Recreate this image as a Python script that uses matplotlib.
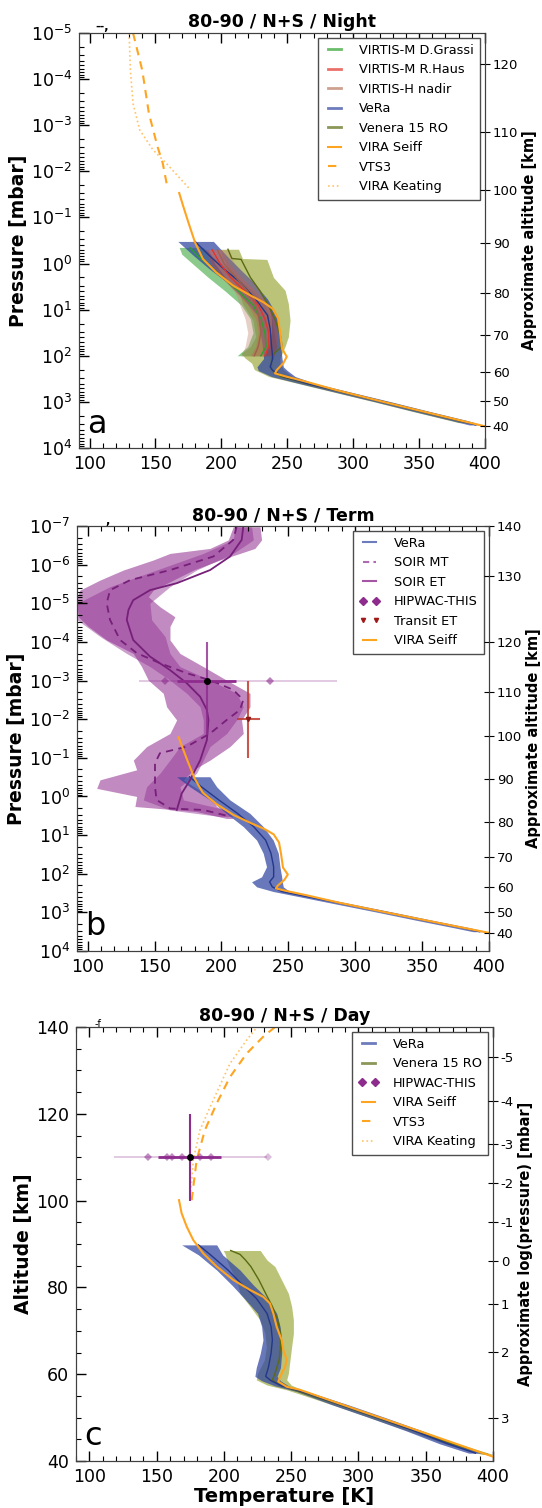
import numpy as np
import matplotlib
matplotlib.use("Agg")
import matplotlib.pyplot as plt
from matplotlib.lines import Line2D
from matplotlib.ticker import MultipleLocator, NullLocator, LogLocator, NullFormatter, LogFormatterSciNotation

# ---------------------------------------------------------------- data
# pressures are stored as log10(p / mbar)

# VIRA Seiff (same profile in panels a and b)
vira_logp = [-1.53, -1.25, -0.89, -0.46, -0.10, 0.19, 0.48, 0.69, 0.84, 0.98, 1.19,
             1.48, 1.84, 2.02, 2.16, 2.31, 2.38, 2.45, 2.56, 2.75, 3.00, 3.27, 3.53]
vira_T = [168, 171, 175, 180, 186, 196, 209, 222, 232, 239, 243,
          244.5, 246, 249.6, 247, 242, 240.7, 249, 264, 288, 323, 362, 400]

# panel a: night
decades_a = [-5, -4, -3, -2, -1, 0, 1, 2, 3, 4]
vts3_a_logp = [-5.0, -4.19, -3.26, -2.54, -2.18, -1.66]
vts3_a_T = [133, 140, 145, 151.5, 155.5, 159]
keat_a_logp = [-5.0, -4.19, -3.47, -2.90, -2.47, -2.18, -1.60]
keat_a_T = [130, 131, 133, 138, 148, 158, 176.5]

vera_a_logp = [-0.48, -0.17, 0.12, 0.40, 0.77, 1.12, 1.41, 1.77, 2.06, 2.24, 2.32,
               2.45, 2.60, 2.80, 3.00, 3.20, 3.40, 3.50]
vera_a_lo = [167, 179, 191, 204, 217, 227, 229, 231, 232, 227, 228, 238, 259, 288, 317, 345, 374, 388]
vera_a_hi = [194, 204, 214, 224, 235, 242, 244, 245, 246, 247, 250, 256, 271, 300, 329, 357, 386, 398]
vera_a_mid = [180, 191, 202, 214, 226, 235, 237, 238, 239, 237, 239, 247, 265, 294, 323, 351, 380, 393]

ven_a_logp = [-0.31, -0.11, -0.09, 0.30, 0.58, 0.87, 1.23, 1.59, 1.80, 1.95, 2.05,
              2.16, 2.30, 2.45, 2.60, 2.80, 3.00, 3.20, 3.45]
ven_a_lo = [199, 201, 202, 208, 213, 216, 224, 226, 222, 215, 218, 223, 225, 236, 258, 287, 316, 344, 380]
ven_a_hi = [213, 216, 234.5, 239.5, 248.3, 250.8, 252.1, 250.8, 248.3, 246, 244.5, 244.5, 247, 254, 270, 299, 328, 356, 392]
ven_a_mid = [205, 208, 215, 222, 229, 235, 241, 245, 246, 240, 238, 238, 238, 245, 264, 293, 322, 350, 386]

grassi_logp = [-0.35, -0.20, 0.00, 0.30, 0.60, 0.90, 1.20, 1.50, 1.80, 2.00]
grassi_lo = [168, 170, 178, 190, 203, 215, 222, 224, 220, 212]
grassi_hi = [186, 192, 200, 212, 224, 233, 238, 240, 242, 240]
grassi_mid = [176, 181, 189, 201, 213, 224, 230, 233, 234, 230]

haus_logp = [-0.30, 0.00, 0.30, 0.60, 0.90, 1.20, 1.50, 1.80, 2.00]
haus_lo = [188, 192, 200, 210, 220, 226, 228, 226, 222]
haus_hi = [200, 206, 215, 226, 236, 240, 242, 242, 240]
haus_mid = [193, 199, 207, 218, 228, 233, 236, 236, 233]

vh_logp = [-0.30, 0.00, 0.30, 0.60, 0.90, 1.20, 1.50, 1.80, 2.00]
vh_lo = [190, 195, 203, 210, 214, 218, 220, 218, 215]
vh_hi = [205, 210, 220, 230, 236, 238, 238, 236, 232]
vh_mid = [197, 202, 211, 220, 226, 229, 230, 228, 225]

alt_a_ticks = [40, 50, 60, 70, 80, 90, 100, 110, 120]
alt_a_logp = [3.53, 2.99, 2.36, 1.55, 0.64, -0.45, -1.60, -2.86, -4.32]

# panel b: terminator
decades_b = [-7, -6, -5, -4, -3, -2, -1, 0, 1, 2, 3, 4]
vera_b_logp = [-0.51, -0.25, 0.09, 0.44, 0.78, 1.13, 1.47, 1.82, 2.08, 2.21, 2.34,
               2.46, 2.60, 2.80, 3.00, 3.20, 3.40, 3.50]
vera_b_lo = [166.5, 176.4, 191.4, 203.8, 216.3, 226.3, 231.2, 233.7, 230, 222.5, 226.3,
             238.7, 259, 288, 317, 345, 374, 388]
vera_b_hi = [191.4, 196.4, 206.3, 221.3, 231.2, 238.7, 242.5, 243.7, 245, 245.5, 246.2,
             251, 271, 300, 329, 357, 386, 398]
vera_b_mid = [176, 185, 198, 212, 224, 233, 237, 239, 239, 236, 238, 245, 265, 294, 323, 351, 380, 393]

soir_et_logp = [-6.98, -6.64, -6.21, -5.86, -5.52, -5.34, -5.08, -4.83, -4.57, -4.05, -3.62,
                -3.27, -2.93, -2.58, -2.24, -1.98, -1.46, -0.94, -0.43, -0.08, 0.35]
soir_et_T = [216.3, 215.1, 206.4, 191.5, 166.6, 146.6, 134, 130.5, 129.2, 134, 146.6,
             161.6, 174.1, 184.1, 189.1, 190.3, 189.1, 184.1, 176.6, 170.3, 166.6]
soir_mt_logp = [-6.98, -6.64, -6.21, -5.86, -5.60, -5.34, -5.00, -4.57, -4.05, -3.71, -3.45,
                -3.19, -3.01, -2.76, -2.50, -2.24, -1.98, -1.63, -1.29, -1.12, -0.86, -0.25,
                0.09, 0.31, 0.35, 0.52]
soir_mt_T = [211.3, 208.8, 193.9, 161.6, 131.7, 116.7, 114.2, 116.7, 124.2, 136.7, 154,
             174.1, 191.5, 208.8, 216.3, 213.8, 203.9, 191.5, 174.1, 154, 150.3, 150.3,
             151.5, 161.6, 186.6, 206.5]

soir_out_logp = [-6.98, -6.64, -6.42, -6.29, -6.12, -5.86, -5.60, -5.34, -5.17, -4.91, -4.65,
                 -4.40, -4.05, -3.70, -3.36, -3.01, -2.67, -2.32, -1.98, -1.63, -1.29, -0.94,
                 -0.69, -0.43, -0.21, 0.00, 0.26, 0.39, 0.57]
soir_out_lo = [208.8, 205.1, 191.4, 161.5, 149, 126.6, 109.2, 94.2, 92.2, 92.2, 93,
               100.5, 114.2, 134.1, 140.3, 145.3, 156.5, 159, 166.5, 161.5, 144, 134.1,
               136.6, 109.2, 106.7, 136.6, 135.3, 181.4, 203.8]
soir_out_hi = [228.8, 230, 225, 213.8, 198.9, 179, 164, 149, 145.3, 154, 165.2,
               161.5, 161.5, 169, 186.4, 203.8, 221.3, 221.3, 215, 216.3, 206.3, 191.4,
               179, 171.5, 181.4, 191.4, 196.4, 203.8, 208.8]

soir_in_logp = [-6.98, -6.64, -6.29, -5.86, -5.43, -5.00, -4.57, -4.14, -3.70, -3.36, -3.01,
                -2.67, -2.32, -1.98, -1.63, -1.29, -0.94, -0.60, -0.25, 0.09, 0.35, 0.52]
soir_in_lo = [210.1, 208.8, 186.4, 151.5, 116.7, 92.2, 92.2, 109.2, 129.1, 146.6, 161.5,
              174, 184, 186.4, 186.4, 169, 161.5, 154, 144, 141.6, 161.5, 198.9]
soir_in_hi = [222.5, 223.8, 208.8, 181.4, 161.5, 146.5, 147.8, 157.8, 161.5, 169, 191.4,
              211.3, 216.3, 211.3, 203.9, 191.4, 186.4, 181.4, 169, 171.5, 203.9, 208.8]

hip_b_T = [158, 236]
hip_b_err = [20, 50]
hip_b_mean_T = 189
hip_b_mean_err = 22
hip_b_logp = -3.0
hip_b_logp_range = [-4.0, -1.6]

transit_T = 220
transit_err = 8.5
transit_logp = -2.0
transit_logp_range = [-3.0, -1.0]

alt_b_ticks = [40, 50, 60, 70, 80, 90, 100, 110, 120, 130, 140]
alt_b_logp = [3.53, 2.98, 2.35, 1.56, 0.65, -0.44, -1.57, -2.70, -4.01, -5.71, -7.0]

# panel c: day, altitude in km
vira_c_alt = [100.1, 97.1, 94, 90.9, 87.8, 84.8, 81.7, 79.4, 77.8, 76.3, 74, 70.9, 67.9,
              65.6, 63.3, 61.7, 59.4, 58.3, 57.1, 56.4, 51.7, 46.4, 41]
vira_c_T = [166.6, 168.5, 172.3, 177.2, 184.7, 194.6, 207, 219.4, 229.3, 234.2, 236.7, 239.2,
            242.9, 244.1, 246.6, 245.4, 241.7, 240.4, 246.6, 256.5, 300, 350, 400]
vts3_c_alt = [100.1, 109.4, 116.3, 122.4, 128.5, 133.9, 137.8, 140.5]
vts3_c_T = [176, 179.7, 185.9, 194.6, 204.5, 216.9, 229.3, 240]
keat_c_alt = [100, 109.4, 116.3, 122.4, 131.6, 137, 140.5]
keat_c_T = [174.8, 177.2, 182.2, 190.9, 204.5, 216.9, 226]

vera_c_alt = [89.8, 87.5, 84, 80.5, 77.5, 74, 71, 67.9, 64.8, 61.5, 59.5, 58.5, 57.3, 56.0,
              53, 50, 47, 44, 41.8]
vera_c_lo = [168.6, 181, 194.6, 206, 215, 225, 228, 229, 227, 224, 223, 228, 238, 254,
             280, 308, 335, 360, 382]
vera_c_hi = [194.6, 199, 211.9, 222, 232, 239.2, 241.7, 242.9, 242.9, 242, 239.5, 242, 248, 262,
             292, 320, 347, 372, 392]
vera_c_mid = [181, 190, 203, 214, 224, 232, 235, 236, 235, 233, 231, 235, 243, 258,
              286, 314, 341, 366, 387]

ven_c_alt = [88.5, 87.6, 86.3, 84.8, 81.7, 78.6, 75.6, 72.5, 69.4, 66.3, 63.3, 60.2, 58.7, 57.5,
             56.4, 53, 50, 47, 44, 41.5]
ven_c_lo = [199.5, 201, 202, 204, 209.4, 211.9, 219.4, 226.8, 230.5, 231.5, 230, 225, 224, 232,
            246.6, 280, 308, 336, 364, 392]
ven_c_hi = [227, 229, 232, 237.9, 242.9, 247.9, 250.3, 251.6, 251.6, 250.3, 249.1, 247.9,
            246.6, 250, 258, 290, 318, 346, 374, 400]
ven_c_mid = [205, 212, 216, 220, 226, 231, 236, 240, 242, 242, 241, 238, 236, 241,
             252, 285, 313, 341, 369, 396]

hip_c_T = [143.8, 157.4, 161.2, 168.7, 182.2, 190.1]
hip_c_faint_T = [233]
hip_c_alt = 110
hip_c_span = [118, 232]
hip_c_mean_T = 174.8
hip_c_mean_span = [151, 198]
hip_c_alt_range = [100, 120]

logp_c_ticks = [-5, -4, -3, -2, -1, 0, 1, 2, 3]
logp_c_alt = [133.1, 122.9, 113.0, 104.1, 95.0, 86.0, 76.2, 65.1, 50.0]

# ---------------------------------------------------------------- style
C_VERA = "#2e44a0"
C_VERA_L = "#24378a"
C_VEN = "#8d9c1e"
C_VEN_L = "#5a6a12"
C_GRASSI = "#2ca02c"
C_HAUS = "#e3342b"
C_VH = "#c28a72"
C_VIRA = "#ffa420"
C_KEAT = "#ffc468"
C_SOIR = "#8e2c8e"
C_SOIR_L = "#76207a"
C_TRANSIT = "#c0392b"

W, H = 542, 1508
fig = plt.figure(figsize=(W / 100, H / 100), dpi=100)


def add_box(left, right, top, bottom):
    return fig.add_axes([left / W, 1 - bottom / H, (right - left) / W, (bottom - top) / H])


def P(logp):
    return np.power(10.0, np.asarray(logp, dtype=float))


def style(ax):
    ax.set_xlim(92, 400)
    ax.xaxis.set_major_locator(MultipleLocator(50))
    ax.xaxis.set_minor_locator(MultipleLocator(10))
    ax.tick_params(which="both", direction="in", top=True, right=False, labelsize=12.5, pad=5)
    ax.tick_params(which="major", length=7, width=1)
    ax.tick_params(which="minor", length=3.5, width=0.8)
    for s in ax.spines.values():
        s.set_color("0.25")


def log_pressure_axis(ax, decades):
    ax.set_yscale("log")
    ax.set_ylim(P(decades[-1]), P(decades[0]))
    ax.set_yticks(P(decades))
    ax.yaxis.set_major_formatter(LogFormatterSciNotation())
    ax.yaxis.set_minor_locator(LogLocator(base=10, subs=np.arange(2, 10), numticks=20))
    ax.yaxis.set_minor_formatter(NullFormatter())


def band(ax, y, lo, hi, color, alpha, z=1):
    ax.fill_betweenx(y, lo, hi, color=color, alpha=alpha, lw=0, zorder=z)


def twin_style(tw, label):
    tw.yaxis.set_minor_locator(NullLocator())
    tw.tick_params(axis="y", direction="inout", length=7, labelsize=9.5, pad=2)
    tw.set_ylabel(label, fontsize=10.5, fontweight="bold", labelpad=3)
    for s in tw.spines.values():
        s.set_color("0.25")


leg_kw = dict(loc="upper right", fontsize=9.3, frameon=True, fancybox=False, edgecolor="0.3",
              labelspacing=0.5, handlelength=1.6, handletextpad=1.1, borderpad=0.5,
              numpoints=2, borderaxespad=0.35, framealpha=1)
TITLE = dict(fontsize=12.5, fontweight="bold", pad=4)
LABEL = dict(fontsize=13.5, fontweight="bold", labelpad=2)

# ---------------------------------------------------------------- panel a
ax = add_box(79, 485, 33, 448)
style(ax)
log_pressure_axis(ax, decades_a)

band(ax, P(ven_a_logp), ven_a_lo, ven_a_hi, C_VEN, 0.6)
band(ax, P(grassi_logp), grassi_lo, grassi_hi, C_GRASSI, 0.55)
band(ax, P(vera_a_logp), vera_a_lo, vera_a_hi, C_VERA, 0.72)
band(ax, P(haus_logp), haus_lo, haus_hi, C_HAUS, 0.35)
band(ax, P(vh_logp), vh_lo, vh_hi, C_VH, 0.4)
ax.plot(ven_a_mid, P(ven_a_logp), color=C_VEN_L, lw=1)
ax.plot(grassi_mid, P(grassi_logp), color=C_GRASSI, lw=1)
ax.plot(vera_a_mid, P(vera_a_logp), color=C_VERA_L, lw=1)
ax.plot(haus_mid, P(haus_logp), color=C_HAUS, lw=1)
ax.plot(vh_mid, P(vh_logp), color="#a0604a", lw=1)
ax.plot(vira_T, P(vira_logp), color=C_VIRA, lw=1.5)
ax.plot(vts3_a_T, P(vts3_a_logp), color=C_VIRA, lw=1.5, ls=(0, (4, 3)))
ax.plot(keat_a_T, P(keat_a_logp), color=C_KEAT, lw=1.2, ls=":")

handles = [
    Line2D([], [], color=C_GRASSI, lw=2, alpha=0.7, label="VIRTIS-M D.Grassi"),
    Line2D([], [], color=C_HAUS, lw=2, alpha=0.7, label="VIRTIS-M R.Haus"),
    Line2D([], [], color=C_VH, lw=2, alpha=0.8, label="VIRTIS-H nadir"),
    Line2D([], [], color=C_VERA, lw=2, alpha=0.7, label="VeRa"),
    Line2D([], [], color=C_VEN_L, lw=2, alpha=0.7, label="Venera 15 RO"),
    Line2D([], [], color=C_VIRA, lw=1.5, label="VIRA Seiff"),
    Line2D([], [], color=C_VIRA, lw=1.5, ls=(0, (4, 3)), label="VTS3"),
    Line2D([], [], color=C_KEAT, lw=1.2, ls=":", label="VIRA Keating"),
]
ax.legend(handles=handles, **leg_kw)
ax.set_title("80-90 / N+S / Night", **TITLE)
ax.set_ylabel("Pressure [mbar]", **LABEL)
ax.text(0.02, 0.02, "a", transform=ax.transAxes, fontsize=23, ha="left", va="bottom")
ax.text(0.04, 1.008, "--,", transform=ax.transAxes, fontsize=8, fontweight="bold")

tw = ax.twinx()
tw.set_yscale("log")
tw.set_ylim(ax.get_ylim())
tw.set_yticks(P(alt_a_logp))
tw.set_yticklabels([str(a) for a in alt_a_ticks])
twin_style(tw, "Approximate altitude [km]")

# ---------------------------------------------------------------- panel b
ax = add_box(77, 489, 526, 951)
style(ax)
log_pressure_axis(ax, decades_b)

band(ax, P(soir_out_logp), soir_out_lo, soir_out_hi, C_SOIR, 0.55)
band(ax, P(soir_in_logp), soir_in_lo, soir_in_hi, C_SOIR, 0.45)
band(ax, P(vera_b_logp), vera_b_lo, vera_b_hi, C_VERA, 0.72)
ax.plot(vera_b_mid, P(vera_b_logp), color=C_VERA_L, lw=1)
ax.plot(soir_mt_T, P(soir_mt_logp), color=C_SOIR_L, lw=1.3, ls=(0, (4, 3)))
ax.plot(soir_et_T, P(soir_et_logp), color=C_SOIR_L, lw=1.3)
ax.plot(vira_T, P(vira_logp), color=C_VIRA, lw=1.5)

# HIPWAC-THIS
hip_lo = [t - e for t, e in zip(hip_b_T, hip_b_err)]
hip_hi = [t + e for t, e in zip(hip_b_T, hip_b_err)]
ax.hlines([P(hip_b_logp)] * len(hip_b_T), hip_lo, hip_hi, color=C_SOIR, lw=1.2, alpha=0.3)
ax.plot(hip_b_T, P([hip_b_logp] * len(hip_b_T)), "D", color=C_SOIR, ms=4, alpha=0.6, mew=0)
ax.hlines(P(hip_b_logp), hip_b_mean_T - hip_b_mean_err, hip_b_mean_T + hip_b_mean_err,
          color=C_SOIR, lw=2)
ax.vlines(hip_b_mean_T, P(hip_b_logp_range[0]), P(hip_b_logp_range[1]), color=C_SOIR, lw=1.5,
          alpha=0.8)
ax.plot(hip_b_mean_T, P(hip_b_logp), "o", color="black", ms=4)

# Transit ET
ax.hlines(P(transit_logp), transit_T - transit_err, transit_T + transit_err, color=C_TRANSIT,
          lw=1.5, alpha=0.85)
ax.vlines(transit_T, P(transit_logp_range[0]), P(transit_logp_range[1]), color=C_TRANSIT,
          lw=1.5, alpha=0.85)
ax.plot(transit_T, P(transit_logp), "v", color="#8b1a1a", ms=3)

handles = [
    Line2D([], [], color=C_VERA, lw=1.5, alpha=0.7, label="VeRa"),
    Line2D([], [], color=C_SOIR, lw=1.5, alpha=0.7, ls=(0, (3, 2)), label="SOIR MT"),
    Line2D([], [], color=C_SOIR, lw=1.5, alpha=0.8, label="SOIR ET"),
    Line2D([], [], color=C_SOIR, ls="none", marker="D", ms=4, label="HIPWAC-THIS"),
    Line2D([], [], color="#a01818", ls="none", marker="v", ms=3, label="Transit ET"),
    Line2D([], [], color=C_VIRA, lw=1.5, label="VIRA Seiff"),
]
ax.legend(handles=handles, **leg_kw)
ax.set_title("80-90 / N+S / Term", **TITLE)
ax.set_ylabel("Pressure [mbar]", **LABEL)
ax.text(0.02, 0.02, "b", transform=ax.transAxes, fontsize=23, ha="left", va="bottom")
ax.text(0.07, 1.0, ",", transform=ax.transAxes, fontsize=8, fontweight="bold", va="bottom")

tw = ax.twinx()
tw.set_yscale("log")
tw.set_ylim(ax.get_ylim())
tw.set_yticks(P(alt_b_logp))
tw.set_yticklabels([str(a) for a in alt_b_ticks])
twin_style(tw, "Approximate altitude [km]")

# ---------------------------------------------------------------- panel c
ax = add_box(76, 493, 1027, 1461)
style(ax)
ax.set_xlim(90, 400)
ax.set_ylim(40, 140)
ax.yaxis.set_major_locator(MultipleLocator(20))
ax.yaxis.set_minor_locator(MultipleLocator(5))

band(ax, ven_c_alt, ven_c_lo, ven_c_hi, C_VEN, 0.6)
band(ax, vera_c_alt, vera_c_lo, vera_c_hi, C_VERA, 0.72)
ax.plot(ven_c_mid, ven_c_alt, color=C_VEN_L, lw=1)
ax.plot(vera_c_mid, vera_c_alt, color=C_VERA_L, lw=1)
ax.plot(vira_c_T, vira_c_alt, color=C_VIRA, lw=1.5)
ax.plot(vts3_c_T, vts3_c_alt, color=C_VIRA, lw=1.5, ls=(0, (4, 3)))
ax.plot(keat_c_T, keat_c_alt, color=C_KEAT, lw=1.2, ls=":")

ax.hlines(hip_c_alt, hip_c_span[0], hip_c_span[1], color=C_SOIR, lw=1.2, alpha=0.3)
ax.plot(hip_c_faint_T, [hip_c_alt] * len(hip_c_faint_T), "D", color=C_SOIR, ms=4, alpha=0.3, mew=0)
ax.plot(hip_c_T, [hip_c_alt] * len(hip_c_T), "D", color=C_SOIR, ms=4, alpha=0.55, mew=0)
ax.hlines(hip_c_alt, hip_c_mean_span[0], hip_c_mean_span[1], color=C_SOIR, lw=2)
ax.vlines(hip_c_mean_T, hip_c_alt_range[0], hip_c_alt_range[1], color=C_SOIR, lw=1.5)
ax.plot(hip_c_mean_T, hip_c_alt, "o", color="black", ms=4)

handles = [
    Line2D([], [], color=C_VERA, lw=2, alpha=0.7, label="VeRa"),
    Line2D([], [], color=C_VEN_L, lw=2, alpha=0.7, label="Venera 15 RO"),
    Line2D([], [], color=C_SOIR, ls="none", marker="D", ms=4, label="HIPWAC-THIS"),
    Line2D([], [], color=C_VIRA, lw=1.5, label="VIRA Seiff"),
    Line2D([], [], color=C_VIRA, lw=1.5, ls=(0, (4, 3)), label="VTS3"),
    Line2D([], [], color=C_KEAT, lw=1.2, ls=":", label="VIRA Keating"),
]
ax.legend(handles=handles, **leg_kw)
ax.set_title("80-90 / N+S / Day", **TITLE)
ax.set_ylabel("Altitude [km]", **LABEL)
ax.set_xlabel("Temperature [K]", fontsize=14, fontweight="bold", labelpad=1)
ax.text(0.02, 0.02, "c", transform=ax.transAxes, fontsize=23, ha="left", va="bottom")
ax.text(0.045, 0.995, "-f", transform=ax.transAxes, fontsize=7, va="bottom")

tw = ax.twinx()
tw.set_ylim(40, 140)
tw.set_yticks(logp_c_alt)
tw.set_yticklabels([str(v) for v in logp_c_ticks])
twin_style(tw, "Approximate log(pressure) [mbar]")

fig.savefig("out.png", dpi=100)
